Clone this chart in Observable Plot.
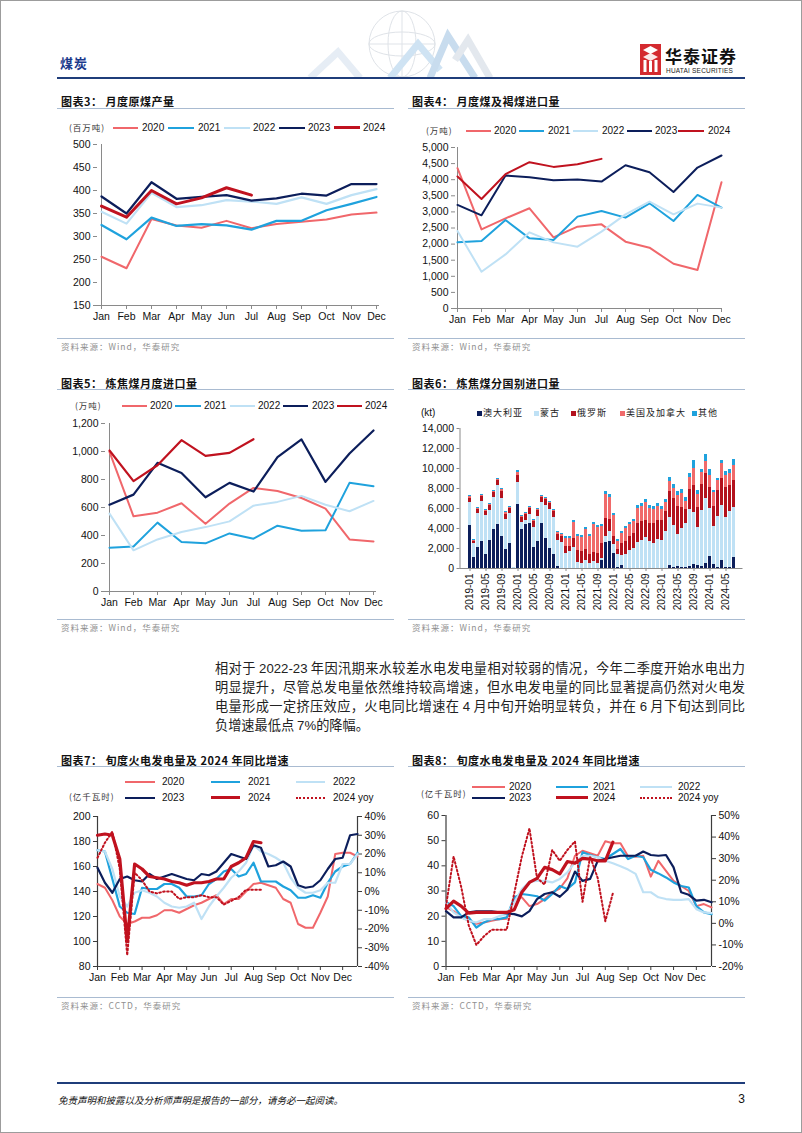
<!DOCTYPE html>
<html><head><meta charset="utf-8"><title>煤炭</title>
<script src="https://cdn.jsdelivr.net/npm/d3@7"></script>
<script src="https://cdn.jsdelivr.net/npm/@observablehq/plot@0.6"></script>
<style>
html,body{margin:0;padding:0;background:#fff;overflow:hidden;}
#page{position:relative;width:802px;height:1133px;overflow:hidden;background:#fff;font-family:"Noto Sans CJK SC","Liberation Sans",sans-serif;}
.chart{position:absolute;}
.t{position:absolute;white-space:nowrap;line-height:1.15;transform:translateY(-50%);}
.title{font-size:11px;font-weight:bold;color:#111;letter-spacing:0.5px;}
.src{font-size:8.5px;color:#8f8f8f;letter-spacing:1px;}
.unit{font-size:8.5px;color:#333;letter-spacing:1px;}
.lgt{font-family:"Liberation Sans",Arial,sans-serif;font-size:10px;color:#111;}
.cjk{font-size:9px;color:#222;letter-spacing:1px;}
.para{position:absolute;left:215px;width:530px;font-size:13.2px;color:#222;line-height:19px;white-space:nowrap;}
.para span.n{font-family:"Liberation Sans",Arial,sans-serif;}
</style></head>
<body><div id="page"></div>
<script>
// ---------------- DATA ----------------
const months = ["Jan","Feb","Mar","Apr","May","Jun","Jul","Aug","Sep","Oct","Nov","Dec"];
const years = ["2020","2021","2022","2023","2024"];

// 图表3 月度原煤产量 (百万吨)
const c3_2020 = [256,231,338,324,319,334,318,327,332,337,348,352];
const c3_2021 = [325,294,341,323,327,324,315,334,334,357,371,386];
const c3_2022 = [354,328,395,364,368,379,376,371,385,371,390,403];
const c3_2023 = [387,350,418,382,386,390,378,383,393,389,414,414];
const c3_2024 = [366,342,400,371,384,406,390];
const c3_yTicks = [150,200,250,300,350,400,450,500];

// 图表4 月度煤及褐煤进口量 (万吨)
const c4_2020 = [4357,2458,2800,3112,2210,2541,2614,2075,1888,1390,1193,3921];
const c4_2021 = [2054,2095,2749,2178,2127,2853,3029,2822,3268,2718,3527,3133];
const c4_2022 = [2407,1141,1680,2365,2054,1919,2386,2925,3320,2925,3257,3133];
const c4_2023 = [3216,2894,4129,4077,3983,4004,3942,4450,4232,3620,4378,4751];
const c4_2024 = [4098,3402,4170,4544,4398,4481,4647];
const c4_yTicks = [0,500,1000,1500,2000,2500,3000,3500,4000,4500,5000];

// 图表5 炼焦煤月度进口量 (万吨)
const c5_2020 = [998,537,563,630,484,628,740,718,668,592,372,358];
const c5_2021 = [313,322,492,353,344,415,377,470,434,437,776,752];
const c5_2022 = [556,294,372,425,460,501,613,640,683,620,573,647];
const c5_2023 = [620,692,919,847,673,776,714,959,1086,783,986,1150];
const c5_2024 = [1007,788,902,1081,969,990,1088];
const c5_yTicks = [0,200,400,600,800,1000,1200];

// 图表6 炼焦煤分国别进口量 (kt)
const c6_months = [
 "2019-01","2019-02","2019-03","2019-04","2019-05","2019-06","2019-07","2019-08","2019-09","2019-10","2019-11","2019-12",
 "2020-01","2020-02","2020-03","2020-04","2020-05","2020-06","2020-07","2020-08","2020-09","2020-10","2020-11","2020-12",
 "2021-01","2021-02","2021-03","2021-04","2021-05","2021-06","2021-07","2021-08","2021-09","2021-10","2021-11","2021-12",
 "2022-01","2022-02","2022-03","2022-04","2022-05","2022-06","2022-07","2022-08","2022-09","2022-10","2022-11","2022-12",
 "2023-01","2023-02","2023-03","2023-04","2023-05","2023-06","2023-07","2023-08","2023-09","2023-10","2023-11","2023-12",
 "2024-01","2024-02","2024-03","2024-04","2024-05","2024-06","2024-07"];
const c6_ticks = ["2019-01","2019-05","2019-09","2020-01","2020-05","2020-09","2021-01","2021-05","2021-09","2022-01","2022-05","2022-09","2023-01","2023-05","2023-09","2024-01","2024-05"];
const c6_countries = ["澳大利亚","蒙古","俄罗斯","美国及加拿大","其他"];
const c6_aus = [4300,1100,2100,2700,1400,2800,3900,4400,3200,1900,2500,0,
 6400,3900,4400,4500,2100,2700,4500,3000,2000,1400,200,0,
 0,0,0,0,0,0,0,0,0,800,2600,2700,
 1500,100,300,0,0,0,0,0,0,0,0,0,
 0,0,300,100,200,100,100,200,400,300,200,500,
 1200,400,100,800,100,100,1100];
const c6_mng = [2300,1400,3400,4000,3900,3000,3200,3900,3800,3000,3000,100,
 2200,700,400,900,2000,2500,2100,3300,3900,3700,2600,2600,
 1500,1700,2100,600,500,800,500,700,500,200,600,1000,
 900,1300,1000,1400,1800,2000,2600,2800,3100,2700,2500,2900,
 2800,3700,4800,4200,3200,3900,4400,5700,5200,3800,5600,6500,
 4800,3800,5100,5500,5000,5600,5000];
const c6_rus = [400,200,400,500,400,500,500,500,700,500,500,0,
 700,500,600,600,600,600,500,600,600,600,600,600,
 700,500,900,1200,1200,1100,900,900,1000,1500,1800,1200,
 800,500,1200,1300,1400,1500,1900,1900,1700,1800,2000,1900,
 2000,2000,2600,2700,2800,2100,1400,2000,2700,2000,2600,2500,
 2100,2000,2600,2700,3000,2600,2700];
const c6_usc = [200,100,100,100,100,100,100,100,200,200,100,0,
 300,100,100,100,100,100,100,100,100,100,200,200,
 800,800,1600,1400,1400,2000,1800,2800,2600,1700,2400,2200,
 2100,800,1000,1300,1200,1200,1500,1500,1800,1500,1400,1400,
 1100,900,1000,1000,1100,1400,800,1200,1700,1300,1200,1200,
 1200,1400,1000,1500,1200,1200,1500];
const c6_oth = [100,100,100,100,100,100,100,100,100,100,100,0,
 200,100,100,100,100,100,100,100,100,100,100,100,
 200,200,200,200,200,200,200,200,200,200,300,300,
 200,200,200,200,200,200,300,300,300,300,300,300,
 300,300,400,400,400,400,400,400,800,400,300,700,
 600,200,200,300,400,400,600];
const c6_yTicks = [0,2000,4000,6000,8000,10000,12000,14000];

// 图表7 旬度火电发电量 (亿千瓦时), 36 dekads
const c7_2020 = [146,143,133,120,114,116,119,119,121,125,125,123,126,129,131,134,137,130,134,134,140,146,147,145,143,134,131,114,111,111,123,136,170,171,171,168];
const c7_2021 = [173,172,150,128,123,122,143,142,142,146,146,143,136,136,137,146,150,156,158,152,154,163,148,148,148,144,141,135,135,137,135,147,156,160,162,171];
const c7_2022 = [173,172,158,136,128,139,141,139,136,131,128,127,128,131,118,128,136,143,151,156,163,177,172,170,167,163,151,143,139,139,141,147,147,162,162,170];
const c7_2023 = [159,147,139,150,152,149,148,154,150,152,154,152,150,149,154,153,156,163,170,168,166,177,175,160,161,164,160,145,143,144,149,158,166,167,185,186];
const c7_2024 = [185,186,185,166,100,162,158,152,151,150,148,147,145,147,147,148,150,150,160,163,167,180,179];
const c7_yoy = [18,26,32,12,-34,10,6,0,-1,0,0,-4,-3,-3,-2,-3,-3,-7,-5,-3,1,1,1];
const c7_yTicks = [80,100,120,140,160,180,200];
const c7_rTicks = [-40,-30,-20,-10,0,10,20,30,40];

// 图表8 旬度水电发电量 (亿千瓦时)
const c8_2020 = [23.5,22,19.5,18.2,17,17.5,18.2,18.8,19,26.8,27.5,24,24.8,26.8,29.5,31,35,44,46,45,44,49.8,49,49,43.8,43.6,44,35.7,42,38,34,32,30,24,24.8,23.5];
const c8_2021 = [25.5,24,20,19.5,15.5,17.5,18.8,18.8,19.5,27.5,28.8,28.4,27.9,26.2,28.8,32,30.8,33.4,45.4,44.3,43.4,42.7,44.7,46.7,42.7,44,43.4,38.4,37,35.4,33.4,32,31.4,24,21.5,20.8];
const c8_2022 = [25.5,21.5,19.5,18.2,17.5,18.8,18.8,20,20.8,25.5,30.8,33.7,34,34,33.4,34.8,37.4,41.4,44,44,43.4,42,41,39.8,38.5,36.8,29.5,29.5,27.5,26.8,26.5,26.5,26.8,22.8,21.5,21.2];
const c8_2023 = [22,19.5,19.5,21.5,21.9,21.9,21.9,21.5,21.1,20.8,19.9,22,26.8,28.8,29.5,27.7,30.5,37.7,34,34.8,42,42.7,43.4,44,44,44,45.7,44.3,44,44.3,39.4,29.5,28.5,26.2,26.5,25.5];
const c8_2024 = [23,26,24,21.2,21.5,21.5,21.5,21.5,21.5,22.6,29.5,33.4,35,39.4,38.5,36.8,41.7,41.1,43,42.7,42,42,49.4];
const c8_yoy = [8,31,17,-1,-10,-6,-3,-3,-3,14,31,44,21,18,34,29,34,38,10,31,21,1,14];
const c8_yTicks = [0,10,20,30,40,50,60];
const c8_rTicks = [-20,-10,0,10,20,30,40,50];

const dekadMonthTicks = [0,3,6,9,12,15,18,21,24,27,30,33];

// ---------------- STYLE ----------------
const yearColors = ["#f0676b","#1fa2dd","#bfe1f5","#0c1e5b","#c0121f"];
const countryColors = ["#0c1e5b","#bfe1f5","#b3121d","#f06a6a","#1fa2dd"];
const FONT = "'Liberation Sans', Arial, Helvetica, sans-serif";
const AX = "#8a8a8a", AX2 = "#3c3c3c";
const page = document.getElementById("page");

function add(html){ const d=document.createElement("div"); d.innerHTML=html; while(d.firstChild) page.appendChild(d.firstChild); }
function txt(x,y,s,cls,css){ const d=document.createElement("div"); d.className="t "+(cls||""); d.textContent=s; d.style.left=x+"px"; d.style.top=y+"px"; if(css) d.style.cssText+=css; page.appendChild(d); return d; }
function hline(x1,x2,y,w,color,style){ const d=document.createElement("div"); d.style.cssText=`position:absolute;left:${x1}px;top:${y-w/2}px;width:${x2-x1}px;height:0;border-top:${w}px ${style||"solid"} ${color};`; page.appendChild(d); }
function box(x,y,w,h,color){ const d=document.createElement("div"); d.style.cssText=`position:absolute;left:${x}px;top:${y}px;width:${w}px;height:${h}px;background:${color};`; page.appendChild(d); }
function mount(svg,left,top){ const d=document.createElement("div"); d.className="chart"; d.style.left=left+"px"; d.style.top=top+"px"; d.appendChild(svg); page.appendChild(d); }
const plotStyle = {fontFamily: FONT, fontSize: "10px", color: "#111", background: "none", overflow: "visible"};

// ---------------- HEADER / FOOTER ----------------
add(`<svg style="position:absolute;left:290px;top:0" width="240" height="78">
  <g fill="none" stroke="#dfe3e8" stroke-width="1">
   <circle cx="112" cy="44" r="33"/>
   <ellipse cx="112" cy="44" rx="14" ry="33"/>
   <ellipse cx="112" cy="44" rx="33" ry="12"/>
   <path d="M79 44 H145 M112 11 V77"/>
  </g>
  <g fill="none" stroke-width="7" stroke-linecap="butt">
   <path d="M20 78 L48 52 L70 78" stroke="#e6edf5"/>
   <path d="M100 78 L128 44 L150 70" stroke="#cfe3f3"/>
   <path d="M140 78 L158 36 L185 78" stroke="#c8dcee"/>
   <path d="M165 60 L178 40 L200 78" stroke="#e3e8ee"/>
  </g></svg>`);
txt(60,63,"煤炭","",`font-size:13px;font-weight:bold;color:#1b3a8c;letter-spacing:1px;`);
hline(57,745,78.5,2.5,"#1f3d7a");
add(`<svg style="position:absolute;left:640px;top:44px" width="22" height="32">
  <rect x="0" y="0" width="21" height="31" fill="#d42a2f"/>
  <path d="M3 6 L10.5 2 L18 6 L10.5 10 Z" fill="#fff"/>
  <path d="M3 13 L10.5 9 L18 13 L10.5 17 Z" fill="#fff" opacity="0.9"/>
  <rect x="3.5" y="16" width="3" height="12" fill="#fff"/>
  <rect x="9" y="17" width="3" height="11" fill="#fff"/>
  <rect x="14.5" y="16" width="3" height="12" fill="#fff"/>
</svg>`);
txt(665,56,"华泰证券","",`font-size:17px;font-weight:bold;color:#111;letter-spacing:1px;`);
txt(666,71,"HUATAI SECURITIES","",`font-family:${FONT};font-size:6.5px;color:#222;letter-spacing:0.2px;`);

hline(57,745,1083,2.5,"#1f3d7a");
txt(58,1100,"免责声明和披露以及分析师声明是报告的一部分，请务必一起阅读。","",`font-size:9.5px;font-style:italic;color:#111;`);
txt(745,1100,"3","",`font-family:${FONT};font-size:12px;color:#111;transform:translate(-100%,-50%);`);
add(`<div style="position:absolute;left:0;top:0;width:800px;height:1131px;border:1px solid #9c9c9c;pointer-events:none"></div>`);

// ---------------- PANEL FRAMES ----------------
function panel(x, xEnd, titleY, ruleY, srcRuleY, srcY, title, src){
  txt(x+4, titleY, title, "title");
  hline(x, xEnd, ruleY, 1.5, "#a9bbd1");
  hline(x, xEnd, srcRuleY, 1.5, "#a9bbd1");
  txt(x+4, srcY, src, "src");
}
panel(57,394,101,109,339,347,"图表3：  月度原煤产量","资料来源：Wind，华泰研究");
panel(408,745,101,109,339,347,"图表4：  月度煤及褐煤进口量","资料来源：Wind，华泰研究");
panel(57,394,383,389.5,619.5,628,"图表5：  炼焦煤月度进口量","资料来源：Wind，华泰研究");
panel(408,745,383,389.5,619.5,628,"图表6：  炼焦煤分国别进口量","资料来源：Wind，华泰研究");
panel(57,394,760,767,998,1006,"图表7：  旬度火电发电量及 2024 年同比增速","资料来源：CCTD，华泰研究");
panel(408,745,760,767,998,1006,"图表8：  旬度水电发电量及 2024 年同比增速","资料来源：CCTD，华泰研究");

// ---------------- PARAGRAPH ----------------
add(`<div class="para" style="top:658px;text-align:justify;text-align-last:justify;">相对于 <span class="n">2022-23</span> 年因汛期来水较差水电发电量相对较弱的情况，今年二季度开始水电出力</div>
<div class="para" style="top:677px;text-align:justify;text-align-last:justify;">明显提升，尽管总发电量依然维持较高增速，但水电发电量的同比显著提高仍然对火电发</div>
<div class="para" style="top:696px;text-align:justify;text-align-last:justify;">电量形成一定挤压效应，火电同比增速在 <span class="n">4</span> 月中旬开始明显转负，并在 <span class="n">6</span> 月下旬达到同比</div>
<div class="para" style="top:715px;">负增速最低点 <span class="n">7%</span>的降幅。</div>`);

// ---------------- LINE CHARTS (3,4,5) ----------------
function monthlyChart(cfg){
  const rows = [];
  cfg.series.forEach((vals,k) => vals.forEach((v,i) => rows.push({year: years[k], month: months[i], v})));
  const marks = [
    Plot.ruleY([cfg.yDomain[0]], {stroke: AX, strokeWidth: 1}),
    Plot.ruleX([months[0]], {stroke: AX, strokeWidth: 1}),
    Plot.axisY({ticks: cfg.yTicks, tickFormat: cfg.fmt, tickSize: 4, tickPadding: 3, stroke: AX, label: null, fontSize: 10.5}),
    Plot.axisX({ticks: months, tickSize: 4, tickPadding: 3, stroke: AX, label: null, fontSize: 10.5})
  ];
  years.forEach((y,k) => marks.push(Plot.line(rows.filter(r => r.year === y), {x: "month", y: "v", stroke: yearColors[k], strokeWidth: cfg.widths[k], strokeLinejoin: "round"})));
  return Plot.plot({
    width: cfg.w, height: cfg.h, marginLeft: cfg.ml, marginRight: cfg.mr, marginTop: cfg.mt, marginBottom: cfg.mb,
    x: {type: "point", domain: months, padding: 0, label: null},
    y: {domain: cfg.yDomain, label: null},
    style: plotStyle, marks
  });
}
function yearLegend(y, pos, widths, unitX, unit){
  txt(unitX, y, unit, "unit");
  years.forEach((yr,k) => { hline(pos[k][0], pos[k][1], y, widths[k], yearColors[k]); txt(pos[k][2], y, yr, "lgt"); });
}

mount(monthlyChart({series:[c3_2020,c3_2021,c3_2022,c3_2023,c3_2024], yDomain:[150,500], yTicks:c3_yTicks, fmt:d3.format("d"),
  w:340,h:195,ml:42,mr:16,mt:9,mb:25, widths:[2,2.2,2.2,2.2,3]}), 55, 135);
yearLegend(128, [[113,138,142],[168,194,198],[224,250,253],[279,305,308],[334,360,363]], [2,2.5,2.5,2.5,3.2], 69, "(百万吨)");

mount(monthlyChart({series:[c4_2020,c4_2021,c4_2022,c4_2023,c4_2024], yDomain:[0,5000], yTicks:c4_yTicks, fmt:d3.format(","),
  w:340,h:195,ml:50,mr:23,mt:10,mb:24, widths:[2,2,2,2,2]}), 405, 137);
yearLegend(131, [[466,491,494],[519,544,548],[573,598,602],[627,652,655],[678,704,708]], [2,2.5,2.5,2.5,2.5], 426, "(万吨)");

mount(monthlyChart({series:[c5_2020,c5_2021,c5_2022,c5_2023,c5_2024], yDomain:[0,1200], yTicks:c5_yTicks, fmt:d3.format(","),
  w:340,h:200,ml:50,mr:19,mt:10,mb:22, widths:[2,2,2,2.2,2.2]}), 55, 413);
yearLegend(406, [[122,147,150],[175,201,204],[230,255,258],[283,308,312],[337,362,365]], [2,2.5,2.5,2.5,2.5], 75, "(万吨)");

// ---------------- STACKED BARS (6) ----------------
(function(){
  const series = [c6_aus, c6_mng, c6_rus, c6_usc, c6_oth];
  const rows = [];
  c6_countries.forEach((c,k) => series[k].forEach((v,i) => rows.push({month: c6_months[i], country: c, v})));
  const chart = Plot.plot({
    width: 345, height: 200, marginLeft: 54.5, marginRight: 7.5, marginTop: 10, marginBottom: 50,
    x: {type: "band", domain: c6_months, paddingInner: 0.3, paddingOuter: 0.15, label: null},
    y: {domain: [0,14000], label: null},
    color: {domain: c6_countries, range: countryColors},
    style: plotStyle,
    marks: [
      Plot.barY(rows, {x: "month", y: "v", fill: "country", order: c6_countries}),
      Plot.ruleY([0], {stroke: AX}),
      Plot.frame({anchor: "left", stroke: AX}),
      Plot.axisY({ticks: c6_yTicks, tickFormat: d3.format(","), tickSize: 3, tickPadding: 3, stroke: AX, label: null, fontSize: 10.5}),
      Plot.axisX({ticks: c6_ticks, tickRotate: -90, tickSize: 3, tickPadding: 2, stroke: AX, label: null, fontSize: 10})
    ]
  });
  mount(chart, 405, 418);
  txt(421, 413, "(kt)", "lgt", "font-size:10px;");
  const lg = [[477,483],[534,540],[571,577],[620,626],[692,698]];
  c6_countries.forEach((c,k) => { box(lg[k][0], 410.5, 5, 5, countryColors[k]); txt(lg[k][1], 413, c, "cjk"); });
})();

// ---------------- DEKAD CHARTS (7,8) ----------------
function dekadChart(cfg){
  const rows = [];
  cfg.series.forEach((vals,k) => vals.forEach((v,i) => rows.push({year: years[k], i, v})));
  const yoyRows = cfg.yoy.map((p,i) => ({i, v: cfg.toLeft(p)}));
  const marks = [
    Plot.ruleY([cfg.yDomain[0]], {stroke: AX2, strokeWidth: 1.2}),
    Plot.ruleX([0], {stroke: AX2, strokeWidth: 1.2}),
    Plot.ruleX([35], {stroke: AX2, strokeWidth: 1.2}),
    Plot.axisY({ticks: cfg.yTicks, tickSize: 4, tickPadding: 3, stroke: AX2, label: null, fontSize: 10.5}),
    Plot.axisY({anchor: "right", ticks: cfg.rTicks.map(cfg.toLeft), tickFormat: d => Math.round(cfg.fromLeft(d)) + "%", tickSize: 4, tickPadding: 3, stroke: AX2, label: null, fontSize: 10.5}),
    Plot.axisX({ticks: dekadMonthTicks, tickFormat: i => months[i/3], tickSize: 4, tickPadding: 3, stroke: AX2, label: null, fontSize: 10.5})
  ];
  years.forEach((y,k) => marks.push(Plot.line(rows.filter(r => r.year === y), {x: "i", y: "v", stroke: yearColors[k], strokeWidth: cfg.widths[k], strokeLinejoin: "round"})));
  marks.push(Plot.line(yoyRows, {x: "i", y: "v", stroke: "#c0121f", strokeWidth: 2, strokeDasharray: "1.6,2.4"}));
  return Plot.plot({
    width: cfg.w, height: cfg.h, marginLeft: cfg.ml, marginRight: cfg.mr, marginTop: cfg.mt, marginBottom: cfg.mb,
    x: {domain: [0,35], label: null},
    y: {domain: cfg.yDomain, label: null},
    style: plotStyle, marks
  });
}
function dekadLegend(rowY, cols, unitX, unitY){
  txt(unitX, unitY, "(亿千瓦时)", "unit");
  const items = [["2020",0,0,2.5,false],["2021",1,0,2.5,false],["2022",2,0,2.5,false],["2023",0,1,2.5,false],["2024",1,1,3.5,false],["2024 yoy",2,1,2,true]];
  items.forEach(([lab,c,r,w,dot],k) => {
    const color = dot ? "#c0121f" : yearColors[k];
    hline(cols[c][0], cols[c][1], rowY[r], w, color, dot ? "dotted" : "solid");
    txt(cols[c][2], rowY[r], lab, "lgt");
  });
}

mount(dekadChart({series:[c7_2020,c7_2021,c7_2022,c7_2023,c7_2024], yoy:c7_yoy, yDomain:[80,200], yTicks:c7_yTicks, rTicks:c7_rTicks,
  toLeft: p => 140 + p*1.5, fromLeft: v => (v-140)/1.5,
  w:345,h:181,ml:42,mr:43,mt:10,mb:21, widths:[2,2.2,2.2,2.2,3.2]}), 55, 806);
dekadLegend([782,798], [[125,155,162],[211,240,248],[296,325,333]], 69, 797);

mount(dekadChart({series:[c8_2020,c8_2021,c8_2022,c8_2023,c8_2024], yoy:c8_yoy, yDomain:[0,60], yTicks:c8_yTicks, rTicks:c8_rTicks,
  toLeft: p => (p+20)*60/70, fromLeft: v => v*70/60 - 20,
  w:345,h:181,ml:40.5,mr:39,mt:9,mb:21, widths:[2,2.2,2.2,2.2,3.2]}), 405, 806);
dekadLegend([787,798], [[472,505,509],[556,588,593],[640,672,678]], 421, 794);
</script>
</body></html>
